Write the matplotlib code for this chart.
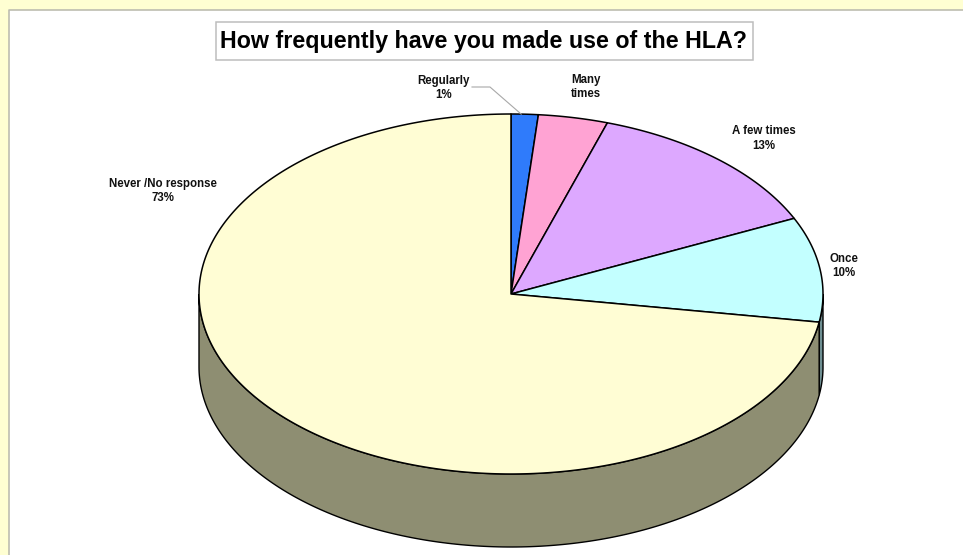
import numpy as np
import matplotlib
matplotlib.use('Agg')
import matplotlib.pyplot as plt
from matplotlib.patches import Polygon, Rectangle

plt.rcParams['font.family'] = ['Liberation Sans', 'DejaVu Sans']

title = 'How frequently have you made use of the HLA?'
categories = ['Regularly', 'Many times', 'A few times', 'Once', 'Never /No response']
values = [1.4, 3.6, 13.1, 9.4, 72.5]
colors = ['#2F7BFB', '#FFA3D3', '#DDA8FF', '#C3FFFF', '#FFFDD4']
side_colors = ['#1F4F9F', '#A06A88', '#8C6CA0', '#6F8F92', '#8E8E72']
label_text = ['Regularly\n1%', 'Many\ntimes', 'A few times\n13%', 'Once\n10%', 'Never /No response\n73%']
label_xy = [(443.5, 88), (586, 87), (764, 138.5), (844, 266), (163, 191)]

W, H = 963, 555
cx, cy, a, b, depth = 511, 294, 312, 180, 73

fig = plt.figure(figsize=(W / 100, H / 100), dpi=100, facecolor='white')
ax = fig.add_axes([0, 0, 1, 1])
ax.set_xlim(0, W)
ax.set_ylim(H, 0)
ax.axis('off')

# yellow page frame
ax.add_patch(Rectangle((0, 0), W, 9.5, fc='#FFFFD2', ec='none', zorder=0))
ax.add_patch(Rectangle((0, 0), 9, H, fc='#FFFFD2', ec='none', zorder=0))
ax.plot([9, 9, W], [H, 10, 10], color='#BDBDB0', lw=1.2, zorder=1)


def pt(t, dy=0):
    return cx + a * np.sin(t), cy - b * np.cos(t) + dy


edges = np.deg2rad(np.cumsum([0] + values) * 3.6)

# side walls: only the front half of the rim (90..270 degrees) is visible
for i, (s, e) in enumerate(zip(edges[:-1], edges[1:])):
    lo, hi = max(s, np.pi / 2), min(e, 3 * np.pi / 2)
    if hi <= lo:
        continue
    t = np.linspace(lo, hi, 200)
    x, y = pt(t)
    x2, y2 = pt(t[::-1], depth)
    ax.add_patch(Polygon(np.c_[np.r_[x, x2], np.r_[y, y2]], closed=True,
                         fc=side_colors[i], ec='black', lw=1.0, zorder=2))

# top faces
for i, (s, e) in enumerate(zip(edges[:-1], edges[1:])):
    t = np.linspace(s, e, 300)
    x, y = pt(t)
    ax.add_patch(Polygon(np.c_[np.r_[cx, x], np.r_[cy, y]], closed=True,
                         fc=colors[i], ec='black', lw=1.1, zorder=3, joinstyle='round'))

# title box
ax.add_patch(Rectangle((215.5, 21.5), 537, 38, fc='white', ec='#BDBDBD', lw=1.1, zorder=4))
ax.text(483.5, 41.5, title, ha='center', va='center', fontsize=16.75,
        fontweight='bold', color='black', zorder=5)

# labels
for s, (x, y) in zip(label_text, label_xy):
    ax.text(x, y, s, ha='center', va='center', fontsize=8.3, fontweight='bold',
            color='#111111', linespacing=1.3, zorder=5)

# leader line for the small slice
lx, ly = pt(edges[0] + 0.37 * (edges[1] - edges[0]))
ax.plot([472, 490, lx], [87, 87, ly], color='#A8A8A8', lw=0.8, zorder=5)

fig.savefig('out.png', dpi=100, facecolor='white')
